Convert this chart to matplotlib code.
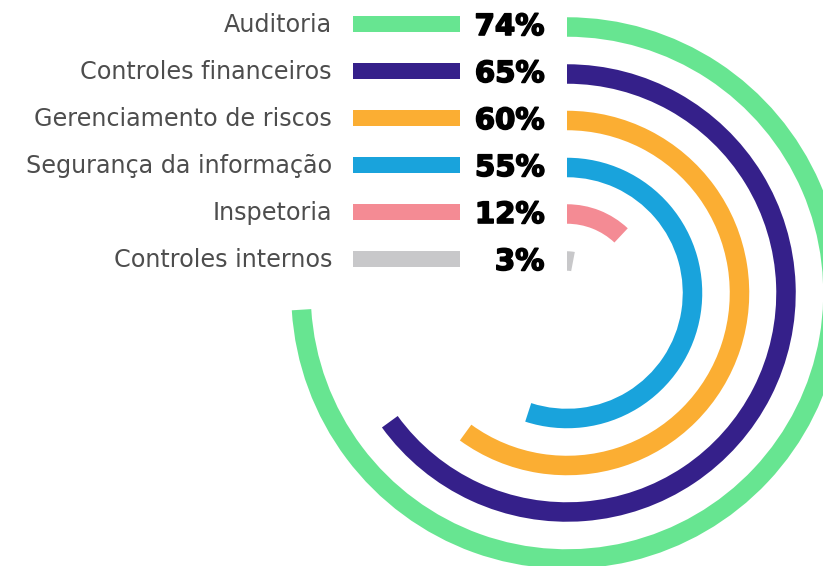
import numpy as np
import matplotlib
matplotlib.use("Agg")
import matplotlib.pyplot as plt
import matplotlib.patheffects as pe
from matplotlib.patches import Rectangle

categorias = ["Auditoria", "Controles financeiros", "Gerenciamento de riscos",
              "Segurança da informação", "Inspetoria", "Controles internos"]
valores = [74, 65, 60, 55, 12, 3]
cores = ["#67E591", "#35208A", "#FBAE33", "#19A3DC", "#F48B94", "#C8C8CA"]

W, H = 823, 566
fig = plt.figure(figsize=(W / 100, H / 100), dpi=100)

# fundo em coordenadas de pixel, para a legenda
bg = fig.add_axes([0, 0, 1, 1])
bg.set_xlim(0, W)
bg.set_ylim(H, 0)
bg.axis("off")

# grafico radial
cx, cy = 567, 293
rmax = 290
ax = fig.add_axes([(cx - rmax) / W, (H - cy - rmax) / H, 2 * rmax / W, 2 * rmax / H],
                  projection="polar")
ax.set_theta_zero_location("N")
ax.set_theta_direction(-1)
ax.set_ylim(0, rmax)
ax.axis("off")
ax.patch.set_alpha(0)

larg = 19.5
raios = [266, 219, 172.5, 125.5, 79, 32]
for v, c, r in zip(valores, cores, raios):
    ax.bar(0, larg, width=v / 100 * 2 * np.pi, bottom=r - larg / 2,
           align="edge", color=c, linewidth=0)

# legenda
y0, dy = 24, 47
for i, (cat, v, c) in enumerate(zip(categorias, valores, cores)):
    y = y0 + i * dy
    bg.text(332, y + 8.3, cat, ha="right", va="baseline", fontsize=17.2,
            color="#4d4d4d", family="DejaVu Sans")
    bg.add_patch(Rectangle((353, y - 8), 107, 16, color=c, linewidth=0))
    bg.text(544.5, y + 11, f"{v}%", ha="right", va="baseline", fontsize=21,
            color="#000000", family="DejaVu Sans", fontweight="bold",
            path_effects=[pe.withStroke(linewidth=1.2, foreground="#000000")])

fig.savefig("out.png", dpi=100)
